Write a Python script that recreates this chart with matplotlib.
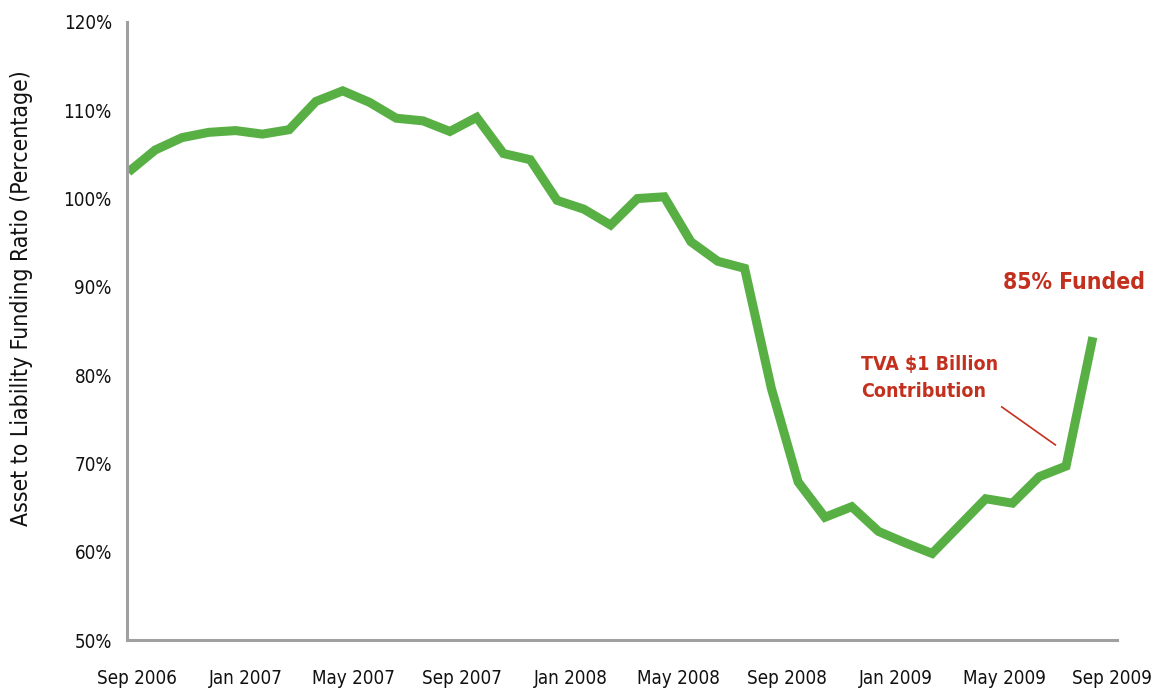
import matplotlib.pyplot as plt
import numpy as np

# monthly funding ratio, Sep 2006 .. Sep 2009 (percent)
months = ['Sep 2006', 'Oct 2006', 'Nov 2006', 'Dec 2006',
          'Jan 2007', 'Feb 2007', 'Mar 2007', 'Apr 2007', 'May 2007', 'Jun 2007',
          'Jul 2007', 'Aug 2007', 'Sep 2007', 'Oct 2007', 'Nov 2007', 'Dec 2007',
          'Jan 2008', 'Feb 2008', 'Mar 2008', 'Apr 2008', 'May 2008', 'Jun 2008',
          'Jul 2008', 'Aug 2008', 'Sep 2008', 'Oct 2008', 'Nov 2008', 'Dec 2008',
          'Jan 2009', 'Feb 2009', 'Mar 2009', 'Apr 2009', 'May 2009', 'Jun 2009',
          'Jul 2009', 'Aug 2009', 'Sep 2009']
ratio = [103.0, 105.5, 106.9, 107.5, 107.7, 107.3, 107.8, 111.0, 112.2, 110.9,
         109.1, 108.8, 107.6, 109.2, 105.1, 104.4, 99.8, 98.8, 97.0, 100.0,
         100.2, 95.1, 92.9, 92.1, 78.5, 67.9, 63.9, 65.1, 62.3, 61.0,
         59.8, 62.9, 66.0, 65.5, 68.5, 69.7, 84.3]
yticks = [50, 60, 70, 80, 90, 100, 110, 120]

green = '#58b044'
red = '#c4301e'
plt.rcParams['font.family'] = ['DejaVu Sans']
plt.rcParams['font.stretch'] = 'condensed'

fig = plt.figure(figsize=(11.57, 6.89), dpi=100)
ax = fig.add_axes([0.1098, 0.0711, 0.8556, 0.8970])

x = np.arange(len(ratio))
ax.plot(x, ratio, color=green, lw=6.5, solid_joinstyle='miter', solid_capstyle='butt')

ax.set_xlim(-0.05, 36.9)
ax.set_ylim(50, 120)
ax.set_yticks(yticks)
ax.set_yticklabels([f'{v}%' for v in yticks])

tick_idx = np.arange(0, len(months), 4)
ax.set_xticks(tick_idx * 1.011 + 0.33)
ax.set_xticklabels([months[i] for i in tick_idx])

ax.tick_params(axis='both', length=0, labelsize=13.5, colors='#111111')
ax.tick_params(axis='x', pad=21)
ax.tick_params(axis='y', pad=11)

for s in ['top', 'right']:
    ax.spines[s].set_visible(False)
for s in ['left', 'bottom']:
    ax.spines[s].set_color('#a0a0a0')
    ax.spines[s].set_linewidth(2.2)

fig.text(22 / 1157, 1 - 298 / 689, 'Asset to Liability Funding Ratio (Percentage)',
         rotation=90, ha='center', va='center', fontsize=16.5, color='#111111')

ax.text(35.3, 90.5, '85% Funded', color=red, fontsize=16.5, fontweight='bold',
        ha='center', va='center')
ax.text(27.35, 79.7, 'TVA $1 Billion\nContribution', color=red, fontsize=14,
        fontweight='bold', ha='left', va='center', linespacing=1.5)
ax.plot([32.6, 34.6], [76.4, 72.1], color=red, lw=1.2)

fig.savefig('out.png', dpi=100)
